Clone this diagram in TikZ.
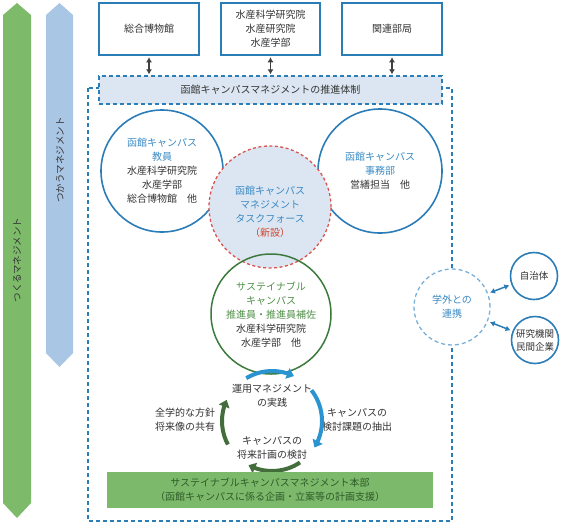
\documentclass[tikz,border=0pt]{standalone}
\usepackage{fontspec}
\newfontfamily\jp{Noto Sans CJK JP}
\usetikzlibrary{arrows.meta,bending}
\definecolor{txt}{HTML}{333333}
\definecolor{cblue}{HTML}{2B7DB8}
\definecolor{hblue}{HTML}{3A8AC4}
\definecolor{lband}{HTML}{DCE6F2}
\definecolor{bban}{HTML}{A9C6E4}
\definecolor{gban}{HTML}{7DBA6A}
\definecolor{cgreen}{HTML}{3B7A3B}
\definecolor{hgreen}{HTML}{4F8F48}
\definecolor{cred}{HTML}{D9534F}
\definecolor{hred}{HTML}{D0442F}
\definecolor{extb}{HTML}{7AB0D8}
\definecolor{cycb}{HTML}{2A94D0}
\definecolor{cycg}{HTML}{436E3C}
\definecolor{gbox}{HTML}{7DB96B}
\definecolor{gboxt}{HTML}{2E5C2A}
\definecolor{darr}{HTML}{404040}
\tikzset{
  topbox/.style={draw=cblue, line width=1.5pt, minimum width=100pt, minimum height=52pt},
  bigcirc/.style={circle, draw=cblue, line width=1.6pt, minimum size=122pt},
  smallcirc/.style={circle, draw=cblue, line width=1.6pt, minimum size=47pt, fill=white, font=\jp\fontsize{9.5}{13}\selectfont},
  darrow/.style={darr, line width=1.5pt, {Latex[length=5pt,width=6pt]}-{Latex[length=5pt,width=6pt]}, shorten <=1.5pt, shorten >=1pt},
  barrow/.style={cblue, line width=1.5pt, {Latex[length=5pt,width=6pt]}-{Latex[length=5pt,width=6pt]}, shorten <=2pt, shorten >=2pt},
  cycarrow/.style={line width=4pt, -{Triangle[length=7pt,width=11pt,flex]}},
  bantext/.style={font=\jp\fontsize{9.5}{11}\selectfont, rotate=90}
}
\begin{document}
\begin{tikzpicture}[x=1pt,y=-1pt, every node/.style={font=\jp\fontsize{10}{14}\selectfont, text=txt, align=center, inner sep=0pt}]
\useasboundingbox (0,0) rectangle (567,531);
% banners
\fill[gban] (17,3) -- (31,15) -- (31,503) -- (17,518) -- (3,503) -- (3,15) -- cycle;
\node[bantext] (gbt) at (17,260) {つくるマネジメント};
\fill[bban] (59.5,3) -- (73,15) -- (73,353) -- (59.5,367) -- (46,353) -- (46,15) -- cycle;
\node[bantext] (bbt) at (60,160) {つかうマネジメント};
% top boxes
\node[topbox] (b1) at (149,29) {総合博物館};
\node[topbox, minimum width=99pt] (b2) at (270.5,29) {水産科学研究院\\水産研究院\\水産学部};
\node[topbox] (b3) at (392,29) {関連部局};
% outer dashed frame
\draw[cblue, line width=1.2pt, dash pattern=on 4pt off 3pt] (88,88) rectangle (452,521);
% band
\node[draw=cblue, line width=1.2pt, dash pattern=on 4pt off 3pt, fill=lband, minimum width=343pt, minimum height=28pt] (band) at (270.5,90) {函館キャンパスマネジメントの推進体制};
\draw[darrow] (b1.south) -- (b1.south |- band.north);
\draw[darrow] (b2.south) -- (b2.south |- band.north);
\draw[darrow] (b3.south) -- (b3.south |- band.north);
% circles
\node[bigcirc] (c1) at (162,171) {\textcolor{hblue}{函館キャンパス}\\\textcolor{hblue}{教員}\\水産科学研究院\\水産学部\\総合博物館　他};
\node[bigcirc, minimum size=124pt] (c3) at (380,171) {\textcolor{hblue}{函館キャンパス}\\\textcolor{hblue}{事務部}\\営繕担当　他};
\node[circle, draw=cred, fill=lband, line width=1.3pt, dash pattern=on 3pt off 2.5pt, minimum size=122pt] (tf) at (270,207) {};
\node[text=hblue] (tft) at (270,212) {函館キャンパス\\マネジメント\\タスクフォース\\\textcolor{hred}{（新設）}};
\node[circle, draw=cgreen, line width=1.5pt, minimum size=120pt] (gc) at (271,314) {};
\node (gct) at (271,315) {\textcolor{hgreen}{サステイナブル}\\\textcolor{hgreen}{キャンパス}\\\textcolor{hgreen}{推進員・推進員補佐}\\水産科学研究院\\水産学部　他};
% external
\node[circle, draw=extb, fill=white, line width=1.3pt, dash pattern=on 4pt off 3pt, minimum size=76pt, text=hblue] (ext) at (452,307) {学外との\\連携};
\node[smallcirc] (jichi) at (534,276) {自治体};
\node[smallcirc] (kenkyu) at (535,340) {研究機関\\民間企業};
\draw[barrow] (ext) -- (jichi);
\draw[barrow] (ext) -- (kenkyu);
% cycle
\coordinate (cyc) at (272,421);
\node (t1) at (272,396) {運用マネジメント\\の実践};
\node (t2) at (357,420) {キャンパスの\\検討課題の抽出};
\node (t3) at (272,448) {キャンパスの\\将来計画の検討};
\node (t4) at (185,420) {全学的な方針\\将来像の共有};
\draw[cycarrow, cycb] ([shift={(-121:50)}]cyc) arc[start angle=-121, end angle=-64, radius=50];
\draw[cycarrow, cycb] ([shift={(-38:50)}]cyc) arc[start angle=-38, end angle=32, radius=50];
\draw[cycarrow, cycg] ([shift={(56:50)}]cyc) arc[start angle=56, end angle=118, radius=50];
\draw[cycarrow, cycg] ([shift={(152:50)}]cyc) arc[start angle=152, end angle=205, radius=50];
% bottom box
\node[fill=gbox, minimum width=326pt, minimum height=36pt, text=gboxt] (hq) at (270,490) {サステイナブルキャンパスマネジメント本部\\（函館キャンパスに係る企画・立案等の計画支援）};
\end{tikzpicture}
\end{document}
